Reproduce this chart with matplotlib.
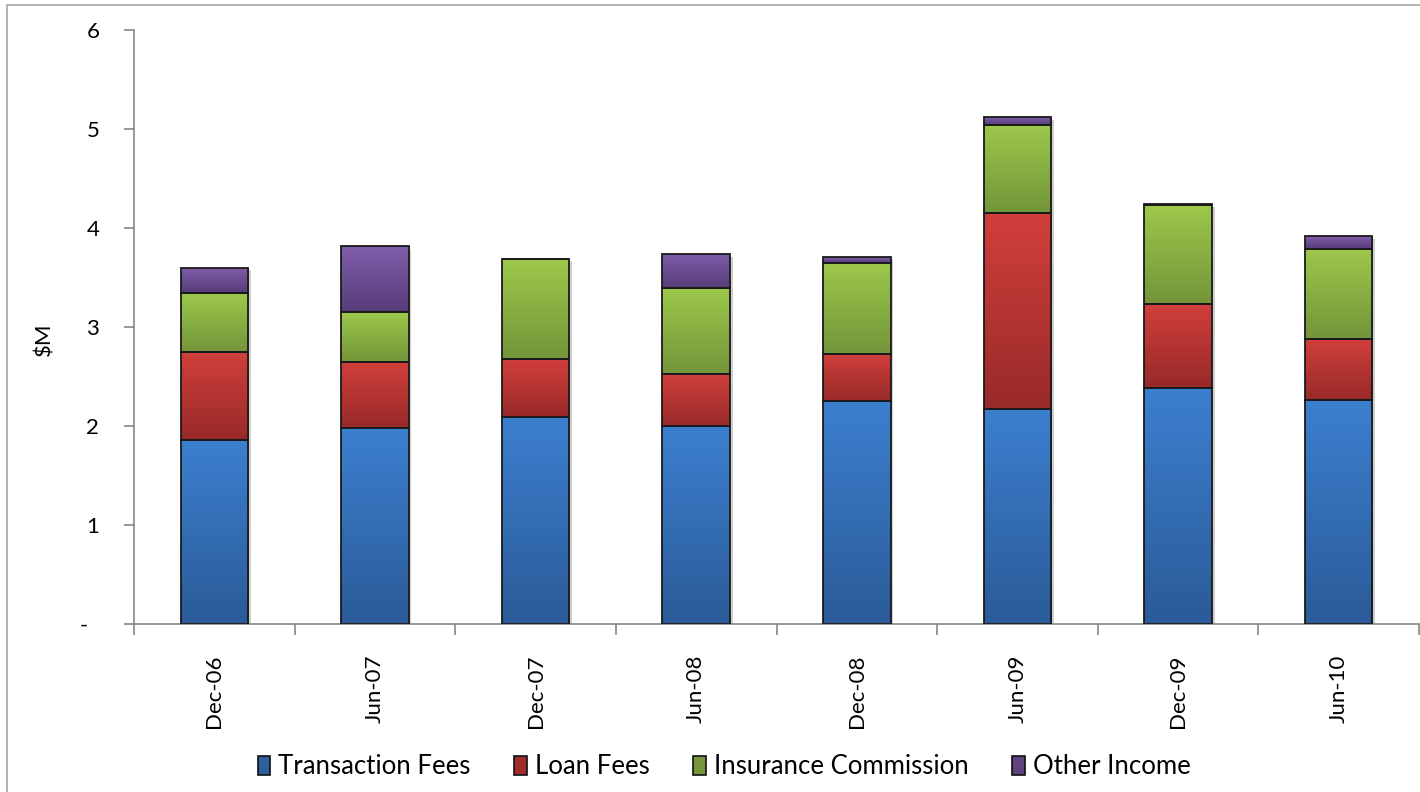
import matplotlib.pyplot as plt
import matplotlib.patheffects as pe
from matplotlib.patches import Rectangle
from matplotlib.colors import to_rgb
import numpy as np

plt.rcParams['font.family'] = ['Lato', 'DejaVu Sans']

periods = ['Dec-06', 'Jun-07', 'Dec-07', 'Jun-08', 'Dec-08', 'Jun-09', 'Dec-09', 'Jun-10']
transaction_fees = [1.86, 1.98, 2.09, 2.00, 2.25, 2.17, 2.38, 2.26]
loan_fees = [0.89, 0.67, 0.59, 0.53, 0.48, 1.98, 0.85, 0.62]
insurance_commission = [0.59, 0.50, 1.01, 0.86, 0.92, 0.89, 1.00, 0.91]
other_income = [0.26, 0.67, 0.00, 0.35, 0.06, 0.08, 0.015, 0.13]

series = [
    ('Transaction Fees', transaction_fees, '#3c7fcf', '#2b5b98', '#2e5f9e'),
    ('Loan Fees', loan_fees, '#d13f3b', '#982a29', '#a02c2b'),
    ('Insurance Commission', insurance_commission, '#9dc84b', '#74953a', '#77953a'),
    ('Other Income', other_income, '#7f5eab', '#573c79', '#5e437f'),
]

fig = plt.figure(figsize=(14.2, 7.92), dpi=100)
ax = fig.add_axes([134 / 1420, 1 - 624 / 792, 1285 / 1420, 594 / 792])

# thin grey frame around the whole chart
fig.patches.append(Rectangle((7 / 1420, -0.05), 1.2, 1 - 5 / 792 + 0.05,
                             transform=fig.transFigure, fill=False,
                             edgecolor='#a6a6a6', linewidth=1.2))

x = np.arange(len(periods))
width = 0.42
totals = np.sum([s[1] for s in series], axis=0)

# soft shadow behind each stacked column
ax.bar(x, totals, width, color='white', edgecolor='none', zorder=1,
       path_effects=[pe.SimplePatchShadow(offset=(2, -2), shadow_rgbFace='#777777', alpha=0.35),
                     pe.Normal()])

bottom = np.zeros(len(periods))
handles = []
for name, vals, top_c, bot_c, legend_c in series:
    bars = ax.bar(x, vals, width, bottom=bottom, facecolor='none',
                  edgecolor='#1a1a1a', linewidth=1.3, zorder=3)
    grad = np.linspace(0, 1, 64)[:, None, None]
    img = (1 - grad) * np.array(to_rgb(top_c)) + grad * np.array(to_rgb(bot_c))
    for b in bars:
        x0, y0 = b.get_x(), b.get_y()
        w, h = b.get_width(), b.get_height()
        if h <= 0:
            continue
        im = ax.imshow(img, extent=(x0, x0 + w, y0, y0 + h), origin='upper',
                       aspect='auto', zorder=2, interpolation='bilinear')
        im.set_clip_path(b)
    bottom += np.array(vals)
    handles.append(Rectangle((0, 0), 1, 1, facecolor=legend_c, edgecolor='#111111', linewidth=1.2))

ax.set_xlim(-0.5, len(periods) - 0.5)
ax.set_ylim(0, 6)

for side in ['top', 'right']:
    ax.spines[side].set_visible(False)
for side in ['left', 'bottom']:
    ax.spines[side].set_color('#868686')
    ax.spines[side].set_linewidth(1.2)

ax.set_yticks(range(0, 7))
ax.set_yticklabels(['-  '] + [str(i) for i in range(1, 7)])
ax.tick_params(axis='y', length=7, width=1.2, color='#868686', pad=18, labelsize=16)

ax.set_xticks(x)
ax.set_xticklabels(periods, rotation=90, fontsize=16)
ax.tick_params(axis='x', which='major', length=0, pad=22)
ax.set_xticks(np.arange(-0.5, len(periods)), minor=True)
ax.tick_params(axis='x', which='minor', length=8, width=1.2, color='#868686')

ax.set_ylabel('$M', fontsize=16)
ax.yaxis.set_label_coords(-0.062, 0.48)

fig.legend(handles, [s[0] for s in series], loc='center',
           bbox_to_anchor=(724 / 1420, 1 - 767 / 792), ncol=4, frameon=False,
           fontsize=18.5, handlelength=0.5, handleheight=0.8, handletextpad=0.3,
           columnspacing=1.7)

fig.savefig('out.png', dpi=100)
